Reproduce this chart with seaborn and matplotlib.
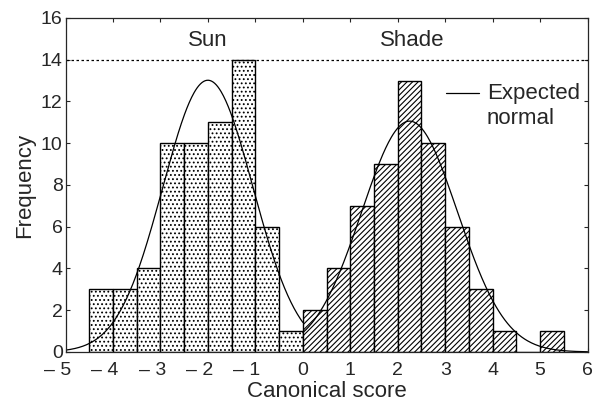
import numpy as np
import pandas as pd
import matplotlib
matplotlib.use("Agg")
import matplotlib.pyplot as plt
import matplotlib.transforms as mtransforms
import seaborn as sns

# ==================== data ====================
BIN_WIDTH = 0.5
sun_left = [-4.5, -4.0, -3.5, -3.0, -2.5, -2.0, -1.5, -1.0, -0.5]
sun_count = [3, 3, 4, 10, 10, 11, 14, 6, 1]
shade_left = [0.0, 0.5, 1.0, 1.5, 2.0, 2.5, 3.0, 3.5, 4.0, 4.5, 5.0]
shade_count = [2, 4, 7, 9, 13, 10, 6, 3, 1, 0, 1]

# expected normal curves (mean, sd estimated from the drawn curves)
sun_mean, sun_sd = -2.0, 0.95
shade_mean, shade_sd = 2.25, 1.01

x_ticks = [-5, -4, -3, -2, -1, 0, 1, 2, 3, 4, 5, 6]
x_ticklabels = ["\u2013 5", "\u2013 4", "\u2013 3", "\u2013 2", "\u2013 1", "0", "1", "2", "3", "4", "5", "6"]
y_ticks = [0, 2, 4, 6, 8, 10, 12, 14, 16]

sns.set_style("ticks")
plt.rcParams["font.family"] = ["Liberation Sans", "DejaVu Sans"]
plt.rcParams["hatch.linewidth"] = 0.8
plt.rcParams["hatch.color"] = "black"

TICK_FS = 14
TEXT_FS = 16

fig = plt.figure(figsize=(5.94, 4.05), dpi=100)
ax = fig.add_axes([0.1103, 0.1309, 0.8788, 0.8247])


def draw_group(left, count, hatch):
    df = pd.DataFrame({"x": np.array(left) + BIN_WIDTH / 2, "n": count})
    sns.histplot(data=df, x="x", weights="n", binwidth=BIN_WIDTH,
                 binrange=(left[0], left[-1] + BIN_WIDTH), ax=ax,
                 color="white", edgecolor="black", linewidth=1.0,
                 alpha=1, hatch=hatch)


draw_group(sun_left, sun_count, "....")
draw_group(shade_left, shade_count, "//////")


def normal_curve(mean, sd, n, lo, hi):
    xs = np.linspace(lo, hi, 300)
    ys = n * BIN_WIDTH / (sd * np.sqrt(2 * np.pi)) * np.exp(-(xs - mean) ** 2 / (2 * sd ** 2))
    return pd.DataFrame({"x": xs, "y": ys})


sun_curve = normal_curve(sun_mean, sun_sd, sum(sun_count), -5, 0)
shade_curve = normal_curve(shade_mean, shade_sd, sum(shade_count), 0, 6)
sns.lineplot(data=sun_curve, x="x", y="y", color="black", linewidth=0.9, ax=ax)
sns.lineplot(data=shade_curve, x="x", y="y", color="black", linewidth=0.9, ax=ax)

ax.axhline(14, color="black", linestyle=(0, (2, 2)), linewidth=0.9)
ax.text(-2.0, 14.9, "Sun", ha="center", va="center", fontsize=TEXT_FS)
ax.text(2.3, 14.9, "Shade", ha="center", va="center", fontsize=TEXT_FS)

# legend drawn by hand
ax.plot([3.02, 3.72], [12.4, 12.4], color="black", linewidth=0.9)
ax.text(3.88, 12.4, "Expected", ha="left", va="center", fontsize=TEXT_FS)
ax.text(3.88, 11.2, "normal", ha="left", va="center", fontsize=TEXT_FS)

ax.set_xlim(-5, 6)
ax.set_ylim(0, 16)
ax.set_xticks(x_ticks)
ax.set_xticklabels(x_ticklabels)
ax.set_yticks(y_ticks)
ax.tick_params(direction="in", top=True, right=True, labelsize=TICK_FS, length=3)
ax.tick_params(axis="y", pad=2)
ax.tick_params(axis="x", pad=7)
ax.set_xlabel("Canonical score", fontsize=TEXT_FS, labelpad=2)
ax.set_ylabel("Frequency", fontsize=TEXT_FS, labelpad=4)
for s in ax.spines.values():
    s.set_linewidth(0.9)

# negative labels: keep the digit on the tick, let the dash hang to the left
shift = mtransforms.ScaledTranslation(5.4 / 100, 0, fig.dpi_scale_trans)
for lab in ax.get_xticklabels():
    if lab.get_text().startswith("\u2013"):
        lab.set_horizontalalignment("right")
        lab.set_transform(lab.get_transform() + shift)

fig.savefig("out.png", dpi=100)
